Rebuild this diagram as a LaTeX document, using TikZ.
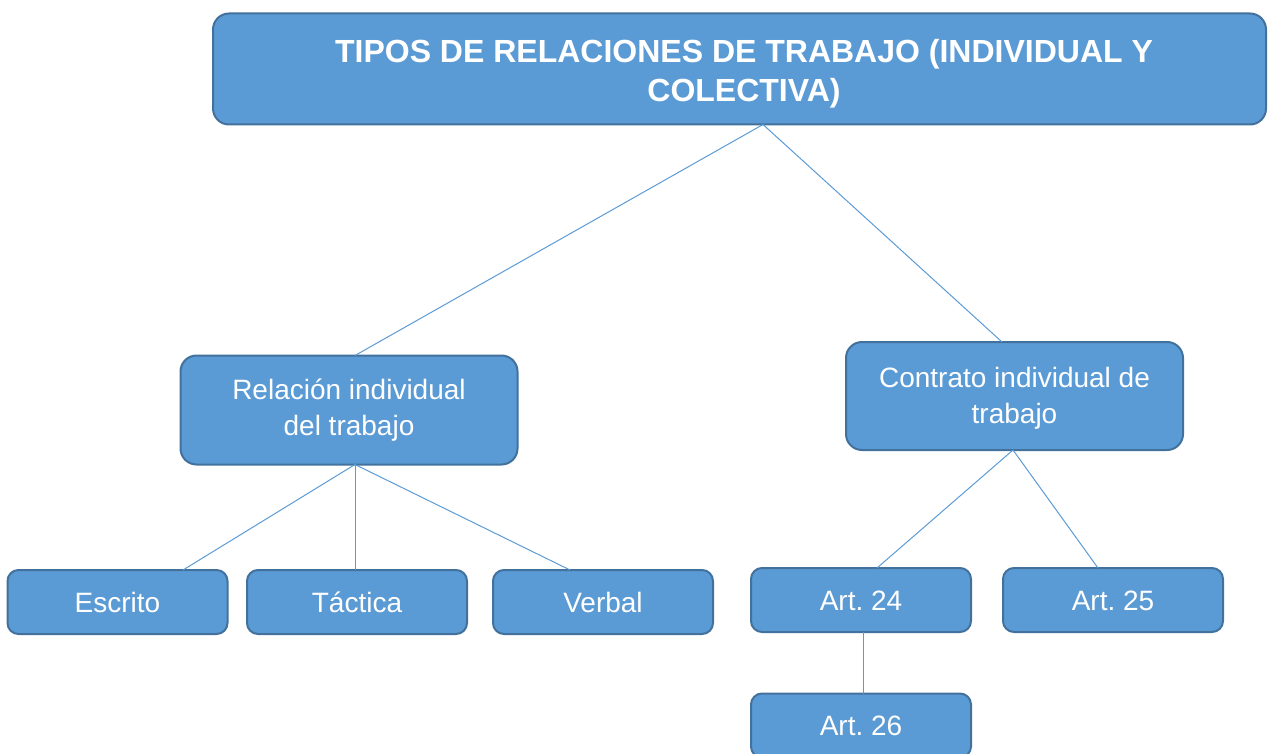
\documentclass[tikz,border=0pt]{standalone}
\usepackage{fontspec}
\setmainfont{Liberation Sans}
\frenchspacing
\usetikzlibrary{
  calc
}
\definecolor{boxfill}{HTML}{5B9BD5}
\definecolor{boxedge}{HTML}{41719C}
\tikzset{
  % Shared values that are assigned to different keys in the styles below.
  globals/box line width/.initial=2pt,
  globals/link line width/.initial=1pt,
%
  % For all boxes.
  box/.style={
    rectangle,
    rounded corners=11pt,
    fill=boxfill,
    draw=boxedge,
    line width=\pgfkeysvalueof{/tikz/globals/box line width},
    text=white,
    font={\fontsize{28pt}{36pt}\selectfont},
    align=center,
    inner sep=0pt,
    outer sep=0pt},
%
  % For the one-line boxes of the lowest rows.
  leaf box/.style={
    box,
    minimum width=220pt,
    minimum height=64pt,
    text height=20pt,
    text depth=0pt},
%
  % For the two-line boxes of the middle row.
  branch box/.style={
    box,
    rounded corners=16pt,
    minimum width=337pt,
    minimum height=109pt},
%
  % For the heading box.
  title box/.style={
    box,
    rounded corners=16pt,
    minimum width=1053pt,
    minimum height=111pt,
    font={\fontsize{32pt}{39pt}\selectfont\bfseries}},
%
  % For the thin connecting lines.
  link/.style={
    draw=boxfill,
    line width=\pgfkeysvalueof{/tikz/globals/link line width}}
}

\begin{document}
\begin{tikzpicture}[x=1pt,y=-1pt]
  \useasboundingbox (0,0) rectangle (1268,754);
  \clip (0,0) rectangle (1268,754);

  % The strut pushes the heading text a little below the middle.
  \node[title box] (tipos) at (739.5,69)
    {\rule{0pt}{32pt}\hspace*{9pt}TIPOS DE RELACIONES DE TRABAJO (INDIVIDUAL Y\\
     \hspace*{9pt}COLECTIVA)};

  \node[branch box] (relacion) at (349,410) {Relación individual\\del trabajo};
  \node[branch box,
        minimum height=108pt] (contrato) at (1014.5,396)
    {\rule{0pt}{24pt}Contrato individual de\\trabajo};

  \node[leaf box] (escrito) at (117.5,602) {Escrito};
  \node[leaf box] (tactica) at (357,602) {Táctica};
  \node[leaf box] (verbal) at (603,602) {Verbal};

  \node[leaf box] (art24) at (861,600) {Art. 24};
  \node[leaf box] (art25) at (1113,600) {Art. 25};
  \node[leaf box] (art26) at (861,725.5) {Art. 26};

  % The lines leave and reach the boxes a little off their middles.
  \coordinate (tipos foot) at ([xshift=23.5pt]tipos.south);
  \coordinate (relacion foot) at ([xshift=6pt]relacion.south);
  \coordinate (contrato foot) at ([xshift=-1.5pt]contrato.south);

  \draw[link] (tipos foot) -- ([xshift=6pt]relacion.north);
  \draw[link] (tipos foot) -- ([xshift=-12.5pt]contrato.north);

  \draw[link] (relacion foot) -- ([xshift=65.5pt]escrito.north);
  \draw[link] (relacion foot) -- ([xshift=-2pt]tactica.north);
  \draw[link] (relacion foot) -- ([xshift=-33pt]verbal.north);

  \draw[link] (contrato foot) -- ([xshift=16pt]art24.north);
  \draw[link] (contrato foot) -- ([xshift=-15pt]art25.north);

  \draw[link] ([xshift=2pt]art24.south) -- ([xshift=2pt]art26.north);
\end{tikzpicture}
\end{document}
